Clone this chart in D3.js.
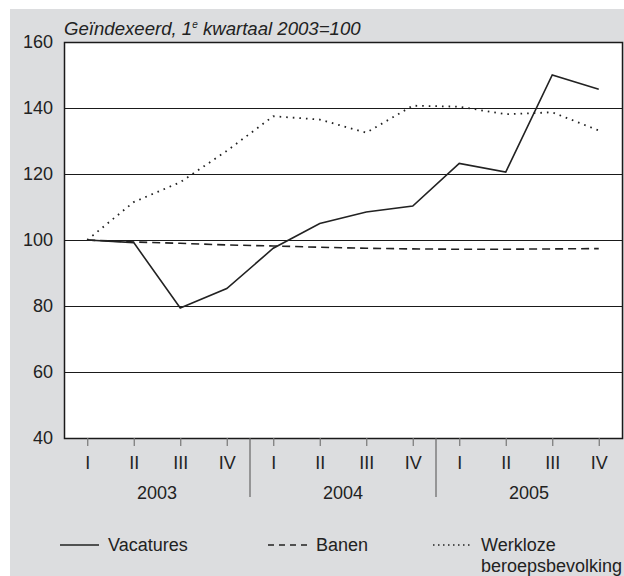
<!DOCTYPE html>
<html>
<head>
<meta charset="utf-8">
<script src="https://cdn.jsdelivr.net/npm/d3@7"></script>
<style>
  body { margin: 0; background: #fff; }
  svg { display: block; font-family: "Liberation Sans", Arial, sans-serif; }
</style>
</head>
<body>
<svg width="624" height="576"></svg>
<script>
// data
var years = ["2003", "2004", "2005"];
var quarters = ["I", "II", "III", "IV"];
var vacatures = [100, 99.2, 79.4, 85.3, 97.5, 105, 108.5, 110.3, 123.2, 120.6, 150, 145.7];
var banen = [100, 99.4, 99, 98.5, 98.2, 97.8, 97.5, 97.3, 97.2, 97.2, 97.3, 97.4];
var werkloos = [100, 111.5, 117.5, 127, 137.5, 136.5, 132.5, 140.7, 140.4, 138.1, 138.7, 133.2];
var yTicks = [40, 60, 80, 100, 120, 140, 160];

var margin = { left: 64, top: 42, right: 2, bottom: 138 };
var width = 624, height = 576;
var innerRight = width - margin.right;
var innerBottom = height - margin.bottom;
var fontSize = 18;

var svg = d3.select("svg");

// grey panel
svg.append("rect")
  .attr("x", 10).attr("y", 9)
  .attr("width", width - 10).attr("height", height - 9)
  .attr("fill", "#dcdddf");

// keys for every quarter
var keys = [];
years.forEach(function(y) {
  quarters.forEach(function(q) { keys.push(y + "-" + q); });
});

var xScale = d3.scalePoint().domain(keys).range([margin.left, innerRight]).padding(0.5);
var yScale = d3.scaleLinear().domain([40, 160]).range([innerBottom, margin.top]);

// plot area
svg.append("rect")
  .attr("x", margin.left).attr("y", margin.top)
  .attr("width", innerRight - margin.left).attr("height", innerBottom - margin.top)
  .attr("fill", "#fff");

// gridlines (half pixel offset keeps them crisp)
svg.append("g").selectAll("line").data(yTicks.slice(1, -1))
  .enter().append("line")
  .attr("x1", margin.left).attr("x2", innerRight)
  .attr("y1", function(d) { return Math.round(yScale(d)) + 0.5; })
  .attr("y2", function(d) { return Math.round(yScale(d)) + 0.5; })
  .attr("stroke", "#1a1a1a").attr("stroke-width", 1.1);

// frame
svg.append("rect")
  .attr("x", margin.left + 0.5).attr("y", margin.top + 0.5)
  .attr("width", innerRight - margin.left).attr("height", innerBottom - margin.top)
  .attr("fill", "none").attr("stroke", "#1a1a1a").attr("stroke-width", 1.5);

// y labels
var yAxis = d3.axisLeft(yScale).tickValues(yTicks).tickSize(0).tickPadding(11);
var gy = svg.append("g")
  .attr("transform", "translate(" + margin.left + ",0)")
  .call(yAxis);
gy.select(".domain").remove();
gy.selectAll("text").attr("font-size", fontSize).attr("fill", "#222")
  .attr("font-family", "Liberation Sans, Arial, sans-serif");

// x axis: quarter ticks
var xAxis = d3.axisBottom(xScale).tickSize(8).tickPadding(0)
  .tickFormat(function(d) { return d.split("-")[1]; });
var gx = svg.append("g")
  .attr("transform", "translate(0," + innerBottom + ")")
  .call(xAxis);
gx.select(".domain").remove();
gx.selectAll(".tick line").attr("stroke", "#777").attr("stroke-width", 1.2);
gx.selectAll("text").attr("font-size", fontSize).attr("fill", "#222")
  .attr("y", 31).attr("dy", null)
  .attr("font-family", "Liberation Sans, Arial, sans-serif");

// year separators and labels
var step = xScale.step();
svg.append("g").selectAll("line").data([1, 2])
  .enter().append("line")
  .attr("x1", function(i) { return xScale(keys[i * 4]) - step / 2; })
  .attr("x2", function(i) { return xScale(keys[i * 4]) - step / 2; })
  .attr("y1", innerBottom).attr("y2", innerBottom + 59)
  .attr("stroke", "#666").attr("stroke-width", 1.2);

svg.append("g").selectAll("text").data(years)
  .enter().append("text")
  .attr("x", function(y) { return (xScale(y + "-I") + xScale(y + "-IV")) / 2; })
  .attr("y", innerBottom + 61)
  .attr("text-anchor", "middle")
  .attr("font-size", fontSize).attr("fill", "#222")
  .text(function(y) { return y; });

// title
var title = svg.append("text")
  .attr("x", 64).attr("y", 35)
  .attr("font-size", 18.6).attr("font-style", "italic").attr("fill", "#222");
title.append("tspan").text("Geïndexeerd, 1");
title.append("tspan").attr("font-size", 10).attr("dy", -7).text("e");
title.append("tspan").attr("dy", 7).text(" kwartaal 2003=100");

// lines
var line = d3.line()
  .x(function(d, i) { return xScale(keys[i]); })
  .y(function(d) { return yScale(d); });

var series = [
  { name: "Vacatures", values: vacatures, dash: null, width: 1.6 },
  { name: "Banen", values: banen, dash: "8,5", width: 1.6 },
  { name: "Werkloze", values: werkloos, dash: "1.6,5", width: 1.8 }
];

svg.append("g").selectAll("path").data(series)
  .enter().append("path")
  .attr("d", function(s) { return line(s.values); })
  .attr("fill", "none")
  .attr("stroke", "#222")
  .attr("stroke-width", function(s) { return s.width; })
  .attr("stroke-dasharray", function(s) { return s.dash; });

// legend
var legendItems = [
  { x: 60, label: ["Vacatures"], dash: null, w: 1.6 },
  { x: 268, label: ["Banen"], dash: "6,5", w: 1.6 },
  { x: 433, label: ["Werkloze", "beroepsbevolking"], dash: "1.5,3.5", w: 1.4 }
];
var lg = svg.append("g").selectAll("g").data(legendItems).enter().append("g");
lg.append("line")
  .attr("x1", function(d) { return d.x; })
  .attr("x2", function(d) { return d.x + 39; })
  .attr("y1", 545).attr("y2", 545)
  .attr("stroke", "#222")
  .attr("stroke-width", function(d) { return d.w; })
  .attr("stroke-dasharray", function(d) { return d.dash; });
lg.each(function(d) {
  var t = d3.select(this).append("text")
    .attr("x", d.x + 48).attr("y", 551)
    .attr("font-size", fontSize).attr("fill", "#222");
  d.label.forEach(function(l, i) {
    t.append("tspan").attr("x", d.x + 48).attr("dy", i ? 21 : 0).text(l);
  });
});
</script>
</body>
</html>
